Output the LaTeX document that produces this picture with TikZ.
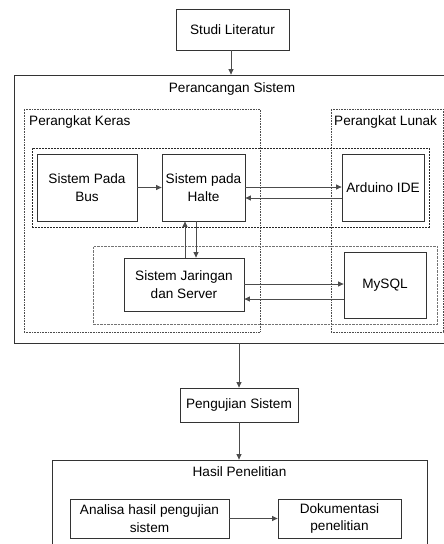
\documentclass[tikz,border=0pt]{standalone}
\usepackage{fontspec}
\setmainfont{Liberation Sans}
\usetikzlibrary{arrows.meta,shadows}
\begin{document}
\begin{tikzpicture}[x=1pt,y=-1pt,
  txt/.style={font=\fontsize{13.6}{17.5}\selectfont, inner sep=0pt},
  box/.style={draw=black!80, line width=0.8pt, fill=white, align=center, inner sep=0pt,
    font=\fontsize{13.6}{17.5}\selectfont,
    drop shadow={shadow xshift=1.2pt, shadow yshift=-1.2pt, opacity=0.15, fill=black}},
  frame/.style={draw=black!80, line width=0.8pt, inner sep=0pt},
  dotbox/.style={draw=black!70, line width=0.6pt, dash pattern=on 0.6pt off 1pt, inner sep=0pt},
  dashbox/.style={draw=black!85, line width=0.7pt, dash pattern=on 2pt off 1pt, inner sep=0pt},
  dashboxg/.style={draw=black!55, line width=0.9pt, dash pattern=on 2.5pt off 1pt, inner sep=0pt},
  arr/.style={draw=black!70, line width=0.9pt, -{Triangle[length=5.5pt,width=5pt]}}
]
\clip (0,0) rectangle (444,544);
\fill[white] (0,0) rectangle (444,544);

% containers
\node[frame, minimum width=436, minimum height=268] (outer) at (232,209) {};
\node[txt, anchor=base] (outert) at (232,92.7) {Perancangan Sistem};
\node[dotbox, minimum width=236, minimum height=223] (keras) at (142,220.5) {};
\node[txt, anchor=base west] (kerast) at (29,125.5) {Perangkat Keras};
\node[dotbox, minimum width=112, minimum height=223] (lunak) at (387,220.5) {};
\node[txt, anchor=base west] (lunakt) at (334,125.5) {Perangkat Lunak};
\node[dashbox, minimum width=397, minimum height=79] (row1) at (230.5,187.5) {};
\node[dashboxg, minimum width=344, minimum height=78] (row2) at (265,285) {};
\node[frame, minimum width=375, minimum height=100] (hasil) at (239.5,510) {};
\node[txt, anchor=base] (hasilt) at (239.5,476.5) {Hasil Penelitian};

% boxes
\node[box, minimum width=113, minimum height=41] (studi) at (232.5,29.5) {Studi Literatur};
\node[box, minimum width=100, minimum height=67] (bus) at (87,187.5) {Sistem Pada\\Bus};
\node[box, minimum width=83, minimum height=67] (halte) at (203.5,187.5) {Sistem pada\\Halte};
\node[box, minimum width=82, minimum height=67] (arduino) at (383,187.5) {Arduino IDE};
\node[box, minimum width=120, minimum height=53] (jar) at (184,284.5) {Sistem Jaringan\\dan Server};
\node[box, minimum width=82, minimum height=66] (mysql) at (385,285) {MySQL};
\node[box, minimum width=118, minimum height=34] (peng) at (239,405) {Pengujian Sistem};
\node[box, minimum width=159, minimum height=39] (analisa) at (149.5,518.5) {Analisa hasil pengujian\\sistem};
\node[box, minimum width=123, minimum height=39] (dok) at (339.5,518.5) {Dokumentasi\\penelitian};

% connectors
\coordinate (xs) at (231,0);
\coordinate (xu) at (185,0);
\coordinate (xd) at (196,0);
\coordinate (y1) at (0,187);
\coordinate (y2) at (0,198);
\coordinate (y3) at (0,284);
\coordinate (y4) at (0,299);
\draw[arr] (studi.south -| xs) -- (outer.north -| xs);
\draw[arr] (bus.east) -- (halte.west);
\draw[arr] (halte.east |- y1) -- (arduino.west |- y1);
\draw[arr] (arduino.west |- y2) -- (halte.east |- y2);
\draw[arr] (jar.north -| xu) -- (halte.south -| xu);
\draw[arr] (halte.south -| xd) -- (jar.north -| xd);
\draw[arr] (jar.east |- y3) -- (mysql.west |- y3);
\draw[arr] (mysql.west |- y4) -- (jar.east |- y4);
\draw[arr] (outer.south -| peng.north) -- (peng.north);
\draw[arr] (peng.south) -- (hasil.north -| peng.south);
\draw[arr] (analisa.east) -- (dok.west);
\end{tikzpicture}
\end{document}
